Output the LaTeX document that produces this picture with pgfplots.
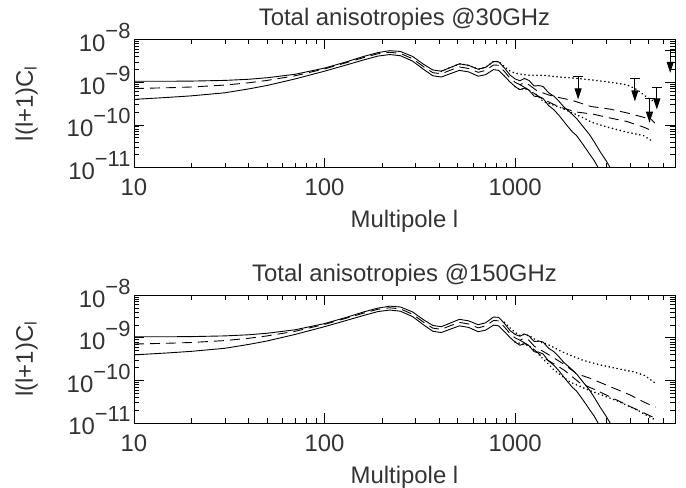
\documentclass[border=0pt]{standalone}
\usepackage{fontspec}
\setmainfont{Liberation Sans}
\usepackage{pgfplots}
\pgfplotsset{compat=1.18}
\usepackage{pgfplotstable}
\usetikzlibrary{arrows.meta}

% common CMB band: upper solid, lower solid, central dashed
\pgfplotstableread{
l v
10 1.05e-9
15 1.05e-9
20 1.06e-9
30 1.10e-9
40 1.17e-9
50 1.27e-9
70 1.53e-9
100 2.14e-9
130 2.99e-9
160 4.00e-9
190 4.92e-9
220 5.47e-9
250 5.24e-9
290 4.00e-9
330 2.64e-9
370 1.93e-9
410 1.81e-9
460 2.23e-9
510 2.69e-9
570 2.48e-9
640 2.01e-9
700 2.23e-9
770 3.05e-9
820 2.99e-9
880 2.14e-9
940 1.47e-9
1000 1.19e-9
1060 1.08e-9
1120 1.22e-9
1180 1.10e-9
1260 8.13e-10
1330 8.32e-10
1400 7.94e-10
1500 5.62e-10
1600 4.68e-10
1700 3.55e-10
1800 2.63e-10
1900 2.14e-10
2000 1.74e-10
2100 1.41e-10
2300 8.5e-11
2450 6.0e-11
2600 4.0e-11
2800 2.3e-11
3000 1.45e-11
3200 8.9e-12
}\Uc
\pgfplotstableread{
l v
10 3.95e-10
15 4.39e-10
20 4.78e-10
30 5.64e-10
40 6.95e-10
50 8.38e-10
70 1.19e-9
100 1.81e-9
130 2.53e-9
160 3.31e-9
190 4.08e-9
220 4.44e-9
250 4.17e-9
290 3.11e-9
330 2.01e-9
370 1.41e-9
410 1.32e-9
460 1.60e-9
510 1.89e-9
570 1.74e-9
640 1.38e-9
700 1.50e-9
770 1.97e-9
820 1.89e-9
880 1.38e-9
940 1.01e-9
1000 7.87e-10
1060 6.66e-10
1120 7.24e-10
1180 6.52e-10
1260 4.68e-10
1330 4.57e-10
1400 4.17e-10
1500 2.82e-10
1600 2.24e-10
1700 1.66e-10
1800 1.20e-10
1900 8.9e-11
2000 6.8e-11
2100 5.6e-11
2300 3.2e-11
2450 2.1e-11
2600 1.45e-11
2760 9.0e-12
}\Lc
\pgfplotstableread{
l v
10 7.10e-10
15 7.40e-10
20 7.71e-10
30 8.55e-10
40 9.68e-10
50 1.10e-9
70 1.41e-9
100 2.05e-9
130 2.86e-9
160 3.76e-9
190 4.62e-9
220 5.02e-9
250 4.72e-9
290 3.53e-9
330 2.32e-9
370 1.67e-9
410 1.57e-9
460 1.93e-9
510 2.28e-9
570 2.09e-9
640 1.70e-9
700 1.89e-9
770 2.53e-9
820 2.48e-9
880 1.77e-9
940 1.24e-9
1000 9.90e-10
1060 8.73e-10
1120 9.68e-10
1180 8.73e-10
}\Dc

% 30 GHz high-l curves
\pgfplotstableread{
l v
1180 8.73e-10
1300 6.31e-10
1500 5.01e-10
1700 4.37e-10
2000 3.72e-10
2500 2.69e-10
3140 2.34e-10
3850 1.91e-10
4700 1.51e-10
5200 1.32e-10
5400 1.10e-10
}\TdashA
\pgfplotstableread{
l v
1060 8.73e-10
1200 6.31e-10
1400 3.98e-10
1700 2.63e-10
2094 2.00e-10
2564 1.78e-10
3140 1.45e-10
3850 1.20e-10
4700 8.91e-11
5300 7.08e-11
}\TdashB
\pgfplotstableread{
l v
410 1.81e-9
460 2.23e-9
510 2.69e-9
570 2.48e-9
640 2.01e-9
700 2.23e-9
770 3.05e-9
820 3.05e-9
880 2.29e-9
940 1.82e-9
1000 1.62e-9
1100 1.51e-9
1200 1.45e-9
1397 1.45e-9
1710 1.32e-9
2094 1.23e-9
2564 1.12e-9
3140 1.00e-9
3846 8.71e-10
4340 6.76e-10
4900 4.47e-10
5430 3.39e-10
}\TdotA
\pgfplotstableread{
l v
1000 7.87e-10
1060 6.66e-10
1120 7.24e-10
1180 6.52e-10
1300 5.01e-10
1400 3.55e-10
1710 2.60e-10
2094 1.74e-10
2564 1.12e-10
3140 8.51e-11
3846 6.76e-11
4710 5.62e-11
5320 3.98e-11
}\TdotB

% 150 GHz high-l curves
\pgfplotstableread{
l v
1180 8.73e-10
1260 6.31e-10
1400 4.79e-10
1500 3.98e-10
1800 2.40e-10
2100 1.43e-10
2470 1.12e-10
3200 6.92e-11
4000 4.57e-11
4800 3.02e-11
5450 2.34e-11
}\BdashA
\pgfplotstableread{
l v
1060 8.73e-10
1200 6.31e-10
1400 3.47e-10
1800 1.76e-10
2200 8.51e-11
2660 5.89e-11
3300 3.72e-11
4200 2.21e-11
5450 1.29e-11
}\BdashB
\pgfplotstableread{
l v
880 2.29e-9
940 1.70e-9
1000 1.32e-9
1060 1.13e-9
1120 1.20e-9
1200 1.08e-9
1300 8.51e-10
1400 7.50e-10
1500 6.76e-10
1800 4.47e-10
2270 2.95e-10
2800 2.29e-10
3380 1.91e-10
4200 1.58e-10
4800 1.29e-10
5450 8.51e-11
}\BdotA
\pgfplotstableread{
l v
1000 7.87e-10
1180 6.52e-10
1300 4.47e-10
1600 1.76e-10
1940 9.12e-11
2500 5.62e-11
3380 3.39e-11
4300 2.09e-11
5450 1.17e-11
}\BdotB

\newcommand{\expo}[1]{10\raisebox{13bp}{\fontsize{22}{22}\selectfont −#1}}
\newcommand{\bigfont}{\fontsize{24}{26}\selectfont}

\pgfplotsset{
  cmbax/.style={
    scale only axis, width=541bp, height=128bp,
    xmin=10, xmax=6900, ymin=1e-11, ymax=1e-8,
    xtick={10,100,1000}, xticklabels={10,100,1000},
    minor xtick={20,30,40,50,60,70,80,90,200,300,400,500,600,700,800,900,2000,3000,4000,5000,6000},
    ytick={1e-11,1e-10,1e-9,1e-8},
    yticklabels={\expo{11},\expo{10},\expo{9},\expo{8}},
    minor ytick={2e-11,3e-11,4e-11,5e-11,6e-11,7e-11,8e-11,9e-11,2e-10,3e-10,4e-10,5e-10,6e-10,7e-10,8e-10,9e-10,2e-9,3e-9,4e-9,5e-9,6e-9,7e-9,8e-9,9e-9},
    major tick length=10bp, minor tick length=5bp,
    tick style={black, line width=0.6bp},
    axis line style={line width=0.8bp},
    tick label style={font=\bigfont, black!80},
    xticklabel style={yshift=-8bp},
    yticklabel style={yshift=2bp},
    title style={font=\bigfont, black!80, at={(0.5,1)}, anchor=base, yshift=8bp},
    label style={font=\bigfont, black!80},
    xlabel={Multipole l},
    xlabel style={at={(0.5,0)}, anchor=base, yshift=-60bp},
    ylabel={l(l+1)C\textsubscript{l}},
    ylabel shift=22bp,
  },
  sol/.style={black, solid, line width=0.9bp, mark=none},
  dsh/.style={black, line width=0.9bp, mark=none, dash pattern=on 10bp off 6bp},
  dtt/.style={black, line width=1.8bp, mark=none, line cap=round, dash pattern=on 0.01bp off 4bp},
  arr/.style={black, line width=0.9bp, mark=none, -{Triangle[length=11bp,width=7bp]}},
}

\begin{document}
\begin{tikzpicture}
\useasboundingbox (0,0) rectangle (686bp,488bp);

% ---------------- top panel: 30 GHz ----------------
\begin{loglogaxis}[cmbax, at={(134bp,320.5bp)}, anchor=south west,
  title={Total anisotropies @30GHz}]
\addplot[sol] table[x=l,y=v] {\Uc};
\addplot[sol] table[x=l,y=v] {\Lc};
\addplot[dsh] table[x=l,y=v] {\Dc};
\addplot[dsh] table[x=l,y=v] {\TdashA};
\addplot[dsh] table[x=l,y=v] {\TdashB};
\addplot[dtt] table[x=l,y=v] {\TdotA};
\addplot[dtt] table[x=l,y=v] {\TdotB};
% upper limits
\addplot[arr] coordinates {(2140,1.38e-9) (2140,3.94e-10)};
\addplot[arr] coordinates {(4250,1.20e-9) (4250,3.55e-10)};
\addplot[arr] coordinates {(5070,4.07e-10) (5070,1.12e-10)};
\addplot[arr] coordinates {(5540,7.41e-10) (5540,2.29e-10)};
\addplot[arr] coordinates {(6510,5.50e-9) (6510,1.66e-9)};
\addplot[only marks, mark=-, mark size=5bp, mark options={line width=0.9bp, black}] coordinates {(2140,1.38e-9) (4250,1.20e-9) (5070,4.07e-10) (5540,7.41e-10) (6510,5.50e-9)};
\end{loglogaxis}

% ---------------- bottom panel: 150 GHz ----------------
\begin{loglogaxis}[cmbax, at={(134bp,65bp)}, anchor=south west,
  title={Total anisotropies @150GHz}]
\addplot[sol] table[x=l,y=v] {\Uc};
\addplot[sol] table[x=l,y=v] {\Lc};
\addplot[dsh] table[x=l,y=v] {\Dc};
\addplot[dsh] table[x=l,y=v] {\BdashA};
\addplot[dsh] table[x=l,y=v] {\BdashB};
\addplot[dtt] table[x=l,y=v] {\BdotA};
\addplot[dtt] table[x=l,y=v] {\BdotB};
\end{loglogaxis}
\end{tikzpicture}
\end{document}
